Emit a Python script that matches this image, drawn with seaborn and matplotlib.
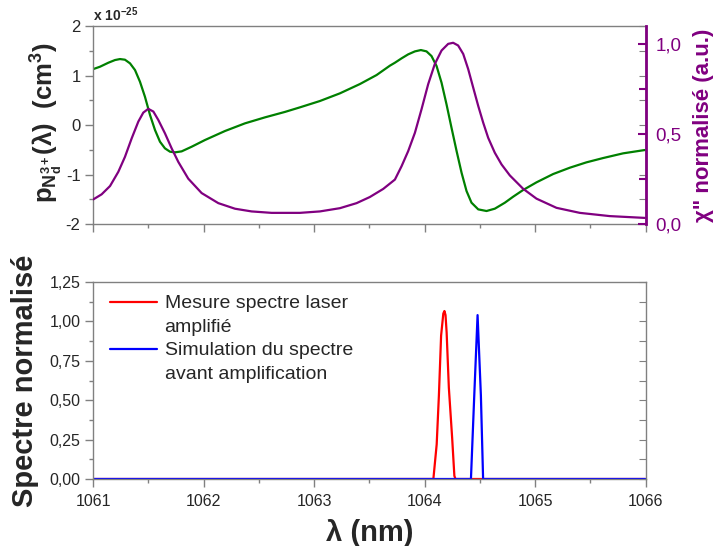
import numpy as np
import pandas as pd
import matplotlib
matplotlib.use('Agg')
import matplotlib.pyplot as plt
import seaborn as sns
from matplotlib.lines import Line2D
from matplotlib.ticker import MultipleLocator, FixedLocator, FixedFormatter

# Courbe verte : p(lambda) en unites de 1e-25 cm3
wl_p = [1061.003, 1061.063, 1061.139, 1061.199, 1061.244, 1061.289, 1061.335, 1061.380,
        1061.425, 1061.470, 1061.516, 1061.561, 1061.606, 1061.651, 1061.697, 1061.742,
        1061.802, 1061.893, 1062.013, 1062.194, 1062.375, 1062.556, 1062.737, 1062.872,
        1063.053, 1063.234, 1063.415, 1063.566, 1063.687, 1063.732, 1063.792, 1063.852,
        1063.913, 1063.967, 1064.018, 1064.063, 1064.109, 1064.154, 1064.199, 1064.244,
        1064.290, 1064.335, 1064.380, 1064.425, 1064.486, 1064.561, 1064.636, 1064.727,
        1064.802, 1064.892, 1065.013, 1065.164, 1065.315, 1065.465, 1065.616, 1065.797,
        1065.993]
p_val = [1.131, 1.178, 1.259, 1.313, 1.333, 1.320, 1.246, 1.111,
         0.875, 0.572, 0.202, -0.101, -0.337, -0.471, -0.539, -0.552,
         -0.532, -0.438, -0.303, -0.121, 0.034, 0.155, 0.265, 0.357,
         0.485, 0.640, 0.828, 1.010, 1.200, 1.259, 1.347, 1.428,
         1.488, 1.515, 1.488, 1.394, 1.192, 0.855, 0.418, -0.054,
         -0.525, -0.963, -1.333, -1.569, -1.704, -1.737, -1.690, -1.569,
         -1.448, -1.313, -1.158, -0.990, -0.862, -0.754, -0.667, -0.572,
         -0.505]

# Courbe violette : chi'' normalise
wl_chi = [1061.003, 1061.078, 1061.154, 1061.229, 1061.289, 1061.350, 1061.410, 1061.455,
          1061.500, 1061.546, 1061.591, 1061.651, 1061.712, 1061.772, 1061.862, 1061.983,
          1062.134, 1062.285, 1062.435, 1062.616, 1062.872, 1063.053, 1063.234, 1063.385,
          1063.505, 1063.626, 1063.732, 1063.792, 1063.852, 1063.913, 1063.973, 1064.033,
          1064.093, 1064.154, 1064.214, 1064.259, 1064.304, 1064.350, 1064.395, 1064.440,
          1064.486, 1064.531, 1064.576, 1064.636, 1064.697, 1064.772, 1064.892, 1065.013,
          1065.194, 1065.405, 1065.676, 1065.993]
chi_val = [0.137, 0.165, 0.211, 0.290, 0.373, 0.476, 0.569, 0.619,
           0.640, 0.625, 0.578, 0.504, 0.420, 0.345, 0.252, 0.172,
           0.116, 0.085, 0.070, 0.062, 0.062, 0.070, 0.088, 0.116,
           0.150, 0.195, 0.247, 0.321, 0.405, 0.507, 0.638, 0.777,
           0.889, 0.964, 1.001, 1.007, 0.992, 0.945, 0.861, 0.759,
           0.656, 0.563, 0.479, 0.396, 0.331, 0.270, 0.196, 0.141,
           0.090, 0.062, 0.044, 0.034]

# Spectres normalises
wl_mes = [1061.0, 1064.08, 1064.11, 1064.13, 1064.15, 1064.17, 1064.18, 1064.19,
          1064.20, 1064.22, 1064.25, 1064.27, 1064.28, 1066.0]
spec_mes = [0.0, 0.0, 0.22, 0.53, 0.91, 1.05, 1.066, 1.04,
            0.93, 0.58, 0.26, 0.02, 0.0, 0.0]
wl_sim = [1061.0, 1064.42, 1064.45, 1064.48, 1064.51, 1064.53, 1066.0]
spec_sim = [0.0, 0.0, 0.53, 1.04, 0.53, 0.0, 0.0]

legend_lines = ['Mesure spectre laser', 'amplifié', 'Simulation du spectre', 'avant amplification']

# Graduations
wl_ticks = [1061, 1062, 1063, 1064, 1065, 1066]
wl_ticklabels = ['1061', '1062', '1063', '1064', '1065', '1066']
p_ticks = [-2, -1, 0, 1, 2]
p_ticklabels = ['-2', '-1', '0', '1', '2']
chi_ticks = [0.0, 0.5, 1.0]
chi_ticklabels = ['0,0', '0,5', '1,0']
spec_ticks = [0.0, 0.25, 0.5, 0.75, 1.0, 1.25]
spec_ticklabels = ['0,00', '0,25', '0,50', '0,75', '1,00', '1,25']

GREEN = '#008000'
PURPLE = '#800080'
GRAY = '#808080'

sns.set_style('ticks')
plt.rcParams['font.family'] = ['Liberation Sans', 'DejaVu Sans']
plt.rcParams['mathtext.fontset'] = 'custom'
plt.rcParams['mathtext.rm'] = 'Liberation Sans'
plt.rcParams['mathtext.it'] = 'Liberation Sans:italic'
plt.rcParams['mathtext.bf'] = 'Liberation Sans:bold'
plt.rcParams['mathtext.default'] = 'bf'

fig = plt.figure(figsize=(7.16, 5.46), dpi=100)
ax_top = fig.add_axes([0.1299, 0.5897, 0.7717, 0.3626])
ax_bot = fig.add_axes([0.1299, 0.1227, 0.7717, 0.3608])

# --- panneau du haut ---
sns.lineplot(x=wl_p, y=p_val, ax=ax_top, color=GREEN, lw=1.6, sort=False, estimator=None)
ax_top.set_xlim(1061, 1066)
ax_top.set_ylim(-2, 2)
ax_top.yaxis.set_major_locator(FixedLocator(p_ticks))
ax_top.yaxis.set_major_formatter(FixedFormatter(p_ticklabels))
ax_top.yaxis.set_minor_locator(MultipleLocator(0.5))
ax_top.xaxis.set_major_locator(FixedLocator(wl_ticks))
ax_top.xaxis.set_minor_locator(MultipleLocator(0.5))
ax_top.tick_params(axis='both', which='both', direction='out', color=GRAY, width=1)
ax_top.tick_params(axis='both', which='major', length=6)
ax_top.tick_params(axis='both', which='minor', length=3)
ax_top.tick_params(axis='x', labelbottom=False)
ax_top.tick_params(axis='y', labelsize=12, pad=3)
for s in ax_top.spines.values():
    s.set_color(GRAY)
    s.set_linewidth(1)
ax_top.set_ylabel(r'p$_{N_d^{3+}}$(λ)  (cm$^3$)', fontsize=18.5, fontweight='bold')
ax_top.yaxis.set_label_coords(-0.05, 0.51)
ax_top.set_xlabel('')
ax_top.text(0.0, 1.008, r'x 10$^{-25}$', transform=ax_top.transAxes, fontsize=10,
            fontweight='bold', ha='left', va='bottom')

sec_top = ax_top.secondary_yaxis('right')
sec_top.yaxis.set_major_locator(MultipleLocator(0.5))
sec_top.tick_params(direction='in', length=5, color=GRAY, labelright=False)
sec_top.spines['right'].set_visible(False)

ax_chi = ax_top.twinx()
sns.lineplot(x=wl_chi, y=chi_val, ax=ax_chi, color=PURPLE, lw=1.6, sort=False, estimator=None)
ax_chi.set_ylim(0, 1.1)
ax_chi.yaxis.set_major_locator(FixedLocator(chi_ticks))
ax_chi.yaxis.set_major_formatter(FixedFormatter(chi_ticklabels))
ax_chi.yaxis.set_minor_locator(MultipleLocator(0.25))
ax_chi.tick_params(axis='y', which='both', direction='in', color=PURPLE, labelcolor=PURPLE,
                   width=1.5, labelsize=13.5, pad=7)
ax_chi.tick_params(axis='y', which='major', length=6)
ax_chi.tick_params(axis='y', which='minor', length=5)
for k in ['left', 'top', 'bottom']:
    ax_chi.spines[k].set_visible(False)
ax_chi.spines['right'].set_color(PURPLE)
ax_chi.spines['right'].set_linewidth(2)
ax_chi.set_ylabel('χ" normalisé (a.u.)', fontsize=16, fontweight='bold', color=PURPLE)
ax_chi.yaxis.set_label_coords(1.085, 0.5)

# --- panneau du bas ---
sns.lineplot(x=wl_mes, y=spec_mes, ax=ax_bot, color='#ff0000', lw=1.6, sort=False,
             estimator=None, label=legend_lines[0])
sns.lineplot(x=wl_sim, y=spec_sim, ax=ax_bot, color='#0000ff', lw=1.6, sort=False,
             estimator=None, label=legend_lines[2])
ax_bot.set_xlim(1061, 1066)
ax_bot.set_ylim(0, 1.25)
ax_bot.xaxis.set_major_locator(FixedLocator(wl_ticks))
ax_bot.xaxis.set_major_formatter(FixedFormatter(wl_ticklabels))
ax_bot.xaxis.set_minor_locator(MultipleLocator(0.5))
ax_bot.yaxis.set_major_locator(FixedLocator(spec_ticks))
ax_bot.yaxis.set_major_formatter(FixedFormatter(spec_ticklabels))
ax_bot.yaxis.set_minor_locator(MultipleLocator(0.125))
ax_bot.tick_params(axis='both', which='both', direction='out', color=GRAY, width=1)
ax_bot.tick_params(axis='both', which='major', length=6)
ax_bot.tick_params(axis='both', which='minor', length=3)
ax_bot.tick_params(axis='y', labelsize=11.5, pad=3)
ax_bot.tick_params(axis='x', labelsize=11.5, pad=5)
for s in ax_bot.spines.values():
    s.set_color(GRAY)
    s.set_linewidth(1)

sec_bot = ax_bot.secondary_yaxis('right')
sec_bot.yaxis.set_major_locator(MultipleLocator(0.125))
sec_bot.tick_params(direction='in', length=5, color=GRAY, labelright=False)
sec_bot.spines['right'].set_visible(False)

ax_bot.set_ylabel('Spectre normalisé', fontsize=21, fontweight='bold')
ax_bot.yaxis.set_label_coords(-0.098, 0.5)
ax_bot.set_xlabel('λ (nm)', fontsize=21, fontweight='bold')
ax_bot.xaxis.set_label_coords(0.5, -0.205)

# legende : chaque libelle sur deux lignes, le trait en face de la premiere
handles, _ = ax_bot.get_legend_handles_labels()
blank = Line2D([], [], color='none')
leg = ax_bot.legend([handles[0], blank, handles[1], blank], legend_lines,
                    loc='upper left', bbox_to_anchor=(0.031, 0.935), frameon=False,
                    fontsize=14, handlelength=2.4, handletextpad=0.4, borderpad=0,
                    borderaxespad=0, labelspacing=0.3)
for line in leg.get_lines():
    line.set_linewidth(1.6)

fig.savefig('out.png', dpi=100)
